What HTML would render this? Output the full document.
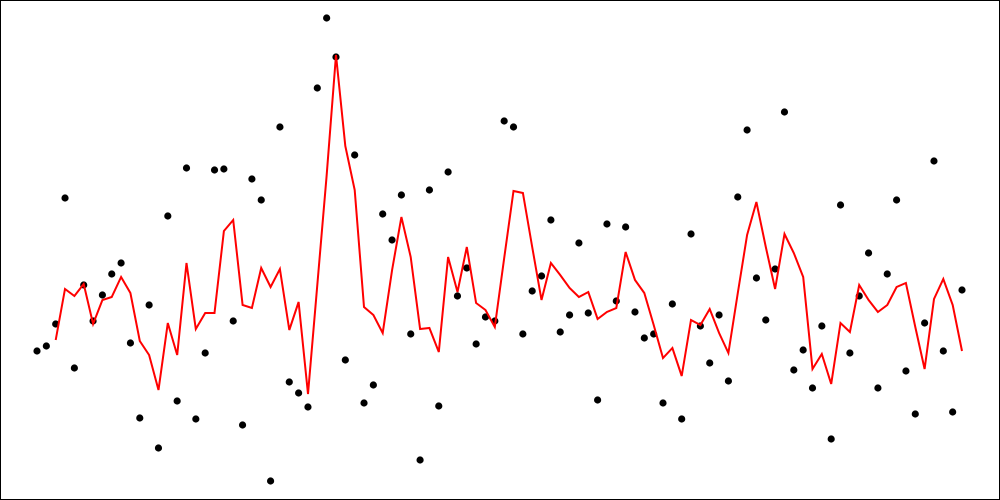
<!DOCTYPE html>
<html><head><meta charset="utf-8"><style>
html,body{margin:0;padding:0;background:#fff;}
svg{display:block;}
</style></head><body>
<svg id="chart" width="1000" height="500" xmlns="http://www.w3.org/2000/svg">
<rect x="0.5" y="0.5" width="999" height="499" fill="#fff" stroke="#000" stroke-width="1"/>
<g id="points"></g>
<g id="lineg"></g>
</svg>
<script>
const pointValues = [149,154,176,302,132,215,179,205,226,237,157,82,195,52,284,99,332,81,147,330,331,179,75,321,300,
19,373,118,107,93,412,482,443,140,345,97,115,286,260,305,166,40,310,94,328,204,232,156,183,179,379,
373,166,209,224,280,168,185,257,187,100,276,199,273,188,162,166,97,196,81,266,174,137,185,119,303,370,222,
180,231,388,130,150,112,174,61,295,147,204,247,112,226,300,129,86,177,339,149,88,210];
const lineValues = [null,null,160,211,204,216,176,200,203,223,207,159,145,110,177,145,237,171,187,187,269,280,195,192,232,
213,231,170,198,106,215,324,445,354,310,193,185,167,230,283,243,171,172,148,243,208,253,197,190,173,242,
309,307,253,200,237,225,212,203,208,181,188,192,248,220,207,175,142,152,124,180,175,191,167,147,207,265,298,
253,211,266,247,223,131,146,116,177,168,215,200,188,195,213,217,173,131,201,221,195,149];

const W = 1000, H = 500;
const xScale = i => 37 + i * (925 / (pointValues.length - 1));
const yScale = v => H - v;

const ns = "http://www.w3.org/2000/svg";
const pg = document.getElementById('points');
pointValues.forEach((v, i) => {
  const c = document.createElementNS(ns, 'circle');
  c.setAttribute('cx', xScale(i));
  c.setAttribute('cy', yScale(v));
  c.setAttribute('r', 3.6);
  c.setAttribute('fill', '#000');
  
  
  pg.appendChild(c);
});
const pts = [];
lineValues.forEach((v, i) => { if (v !== null) pts.push(xScale(i).toFixed(1) + ',' + yScale(v)); });
const pl = document.createElementNS(ns, 'polyline');
pl.setAttribute('points', pts.join(' '));
pl.setAttribute('fill', 'none');
pl.setAttribute('stroke', '#ff0000');
pl.setAttribute('stroke-width', '2');


document.getElementById('lineg').appendChild(pl);
</script>
</body></html>
